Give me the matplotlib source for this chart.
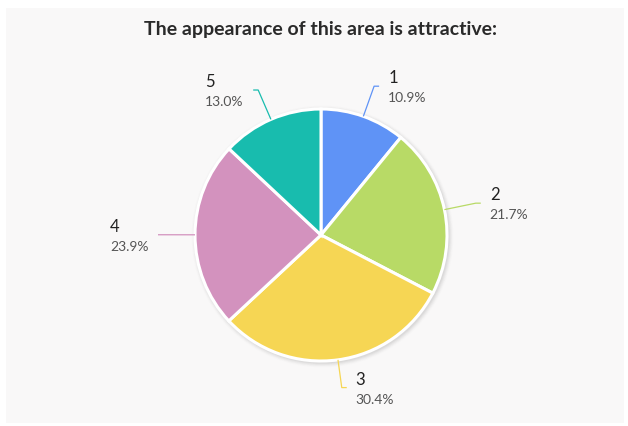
import numpy as np
import matplotlib
matplotlib.use("Agg")
import matplotlib.pyplot as plt
from matplotlib.patches import Circle, FancyBboxPatch

# Survey answers (rating 1-5) and their share of responses
categories = ["1", "2", "3", "4", "5"]
shares = [10.9, 21.7, 30.4, 23.9, 13.0]
colors = ["#5f93f6", "#b8da66", "#f6d654", "#d392be", "#18bcae"]
title = "The appearance of this area is attractive:"

W, H = 628, 427
fig = plt.figure(figsize=(W / 100, H / 100), dpi=100)
fig.patch.set_facecolor("white")
ax = fig.add_axes([0, 0, 1, 1])
ax.set_xlim(0, W)
ax.set_ylim(0, H)
ax.set_aspect("equal")
ax.axis("off")

# light card behind the chart
ax.add_patch(FancyBboxPatch((6, 3), W - 10, H - 12, boxstyle="square,pad=0",
                            facecolor="#f9f8f8", edgecolor="none", zorder=0))

cx, cy, r = 321, H - 236, 126

# soft drop shadow around the pie
for i, a in enumerate(np.linspace(0.05, 0.01, 6)):
    ax.add_patch(Circle((cx + 1.5, cy - 1.5), r + 1 + i * 0.8, facecolor="#555555",
                        edgecolor="none", alpha=a, zorder=1))

wedges, _ = ax.pie(shares, colors=colors, startangle=90, counterclock=False,
                   center=(cx, cy), radius=r, frame=True,
                   wedgeprops=dict(edgecolor="white", linewidth=2.2, zorder=2))
ax.set_xlim(0, W)
ax.set_ylim(0, H)
ax.axis("off")

font = "Lato"
ax.text(W / 2 + 6, H - 30, title, ha="center", va="center", fontsize=14,
        fontweight="bold", color="#2a2a2a", family=font)

# leader lines and labels
for w, cat, val, col in zip(wedges, categories, shares, colors):
    ang = np.deg2rad((w.theta1 + w.theta2) / 2)
    ca, sa = np.cos(ang), np.sin(ang)
    p0 = (cx + r * ca, cy + r * sa)
    p1 = (cx + (r + 32) * ca, cy + (r + 32) * sa)
    side = 1 if ca >= 0 else -1
    if abs(sa) > 0.95:
        p1 = (cx + (r + 28) * ca, cy + (r + 28) * sa)
    p2 = (p1[0] + side * 5, p1[1])
    ax.plot([p0[0], p1[0], p2[0]], [p0[1], p1[1], p2[1]], color=col, lw=0.9,
            zorder=3, solid_capstyle="butt")
    tx = p2[0] + side * 9
    if side < 0:
        tx = p2[0] - 48
    ax.text(tx, p2[1] + 9, cat, ha="left", va="center", fontsize=12,
            color="#222222", family=font)
    ax.text(tx, p2[1] - 11, f"{val:.1f}%", ha="left", va="center", fontsize=10,
            color="#555555", family=font)

fig.savefig("out.png", dpi=100, facecolor=fig.get_facecolor())
